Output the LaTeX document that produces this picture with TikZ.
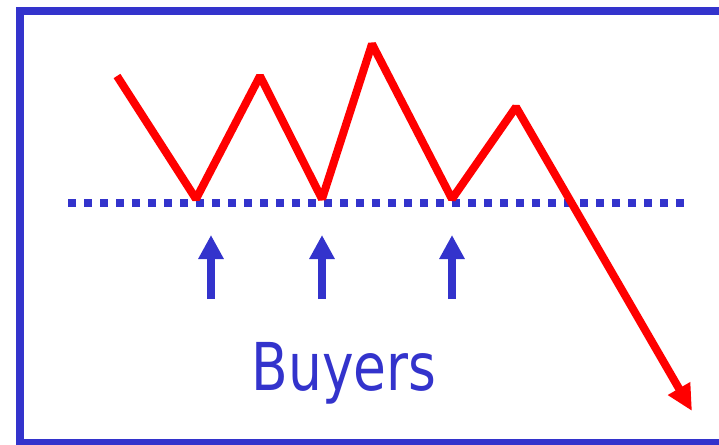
\documentclass[tikz,border=0pt]{standalone}
\usepackage{fontspec}
\newfontfamily\labelfont{DejaVu Sans}
\usetikzlibrary{arrows.meta}
\definecolor{frameblue}{HTML}{3333CC}
\definecolor{pricered}{HTML}{FF0000}
\tikzset{
  frame/.style={draw=frameblue, line width=8pt},
  support/.style={draw=frameblue, line width=8pt, dash pattern=on 8pt off 8pt},
  price/.style={draw=pricered, line width=8pt, line join=bevel, -{Triangle[length=26pt,width=24pt]}},
  buyer/.style={draw=frameblue, line width=8pt, -{Triangle[length=24pt,width=24pt]}},
  lbl/.style={text=frameblue, font=\labelfont\fontsize{66}{66}\selectfont, inner sep=0pt, anchor=base, xscale=0.81}
}
\begin{document}
\begin{tikzpicture}[x=1pt,y=-1pt]
\useasboundingbox (0,0) rectangle (719,444);
\clip (0,0) rectangle (719,444);
\draw[frame] (20,11) rectangle (760,443);
\coordinate (s1) at (68,203);
\coordinate (s2) at (684,203);
\draw[support] (s1) -- (s2);
\coordinate (p0) at (117,76);
\coordinate (p1) at (196,199);
\coordinate (p2) at (260,76);
\coordinate (p3) at (322,199);
\coordinate (p4) at (372,44);
\coordinate (p5) at (452,199);
\coordinate (p6) at (516,107);
\coordinate (p7) at (692,411);
\draw[price] (p0) -- (p1) -- (p2) -- (p3) -- (p4) -- (p5) -- (p6) -- (p7);
\foreach \x/\n in {211/a,322/b,452/c}{
  \coordinate (\n0) at (\x,299);
  \coordinate (\n1) at (\x,235);
  \draw[buyer] (\n0) -- (\n1);
}
\node[lbl] (buyers) at (344,390) {Buyers};
\end{tikzpicture}
\end{document}
